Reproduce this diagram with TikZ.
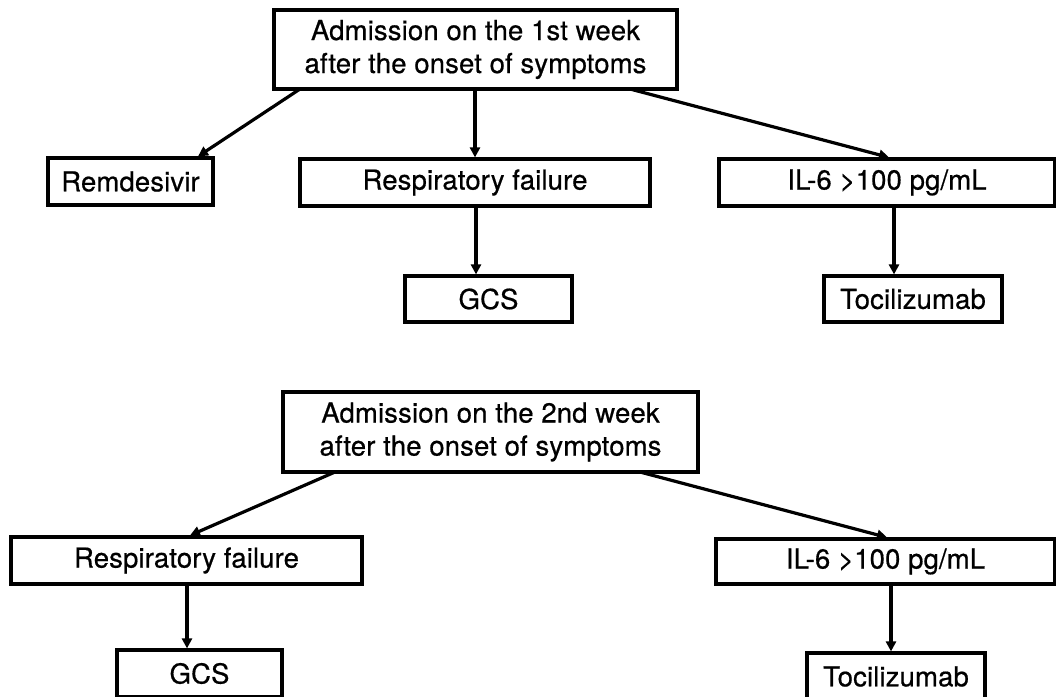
\documentclass[tikz,border=0pt]{standalone}
\usepackage{fontspec}
\newfontfamily\lbl[LetterSpace=0.5,FakeBold=0.6]{TeX Gyre Heros}
\usetikzlibrary{arrows.meta}
\begin{document}
\begin{tikzpicture}[x=1pt,y=-1pt,
  bx/.style={draw=black, line width=3.2pt, inner sep=0pt, align=center,
    font={\lbl\fontsize{27.5}{33}\selectfont}},
  arr/.style={line width=3.2pt, -{Triangle[length=10pt,width=10pt]}}]
\useasboundingbox (0,0) rectangle (1056,696);
\clip (0,0) rectangle (1056,696);
% top tree
\node[bx, minimum width=403pt, minimum height=79pt] (t1) at (475.5,49.5) {Admission on the 1st week\\after the onset of symptoms};
\node[bx, minimum width=165pt, minimum height=47pt] (rem) at (130.5,181.5) {Remdesivir};
\node[bx, minimum width=350pt, minimum height=47pt] (rf1) at (475,182.5) {Respiratory failure};
\node[bx, minimum width=336pt, minimum height=47pt] (il1) at (887,182.5) {IL-6 >100 pg/mL};
\node[bx, minimum width=167pt, minimum height=46pt] (gcs1) at (488.5,299) {GCS};
\node[bx, minimum width=178pt, minimum height=46pt] (toc1) at (913,299) {Tocilizumab};
\coordinate (t1a) at (300,89);
\coordinate (t1c) at (630,89);
\draw[arr] (t1a) -- (rem.north -| 198,0);
\draw[arr] (t1.south -| rf1.north) -- (rf1.north);
\draw[arr] (t1c) -- (il1.north -| 889,0);
\draw[arr] (rf1.south -| 476,0) -- (gcs1.north -| 476,0);
\draw[arr] (il1.south -| 894,0) -- (toc1.north -| 894,0);
% bottom tree
\node[bx, minimum width=415pt, minimum height=80pt] (t2) at (490.5,432) {Admission on the 2nd week\\after the onset of symptoms};
\node[bx, minimum width=351pt, minimum height=47pt] (rf2) at (186.5,560.5) {Respiratory failure};
\node[bx, minimum width=339pt, minimum height=45pt] (il2) at (885.5,561.5) {IL-6 >100 pg/mL};
\node[bx, minimum width=165pt, minimum height=47pt] (gcs2) at (199.5,673.5) {GCS};
\node[bx, minimum width=178pt, minimum height=47pt] (toc2) at (896,676.5) {Tocilizumab};
\coordinate (t2a) at (335,472);
\coordinate (t2c) at (640,472);
\draw[arr] (t2a) -- (rf2.north -| 190,0);
\draw[arr] (t2c) -- (il2.north -| 887,0);
\draw[arr] (rf2.south -| 187,0) -- (gcs2.north -| 187,0);
\draw[arr] (il2.south -| 891,0) -- (toc2.north -| 891,0);
\end{tikzpicture}
\end{document}
